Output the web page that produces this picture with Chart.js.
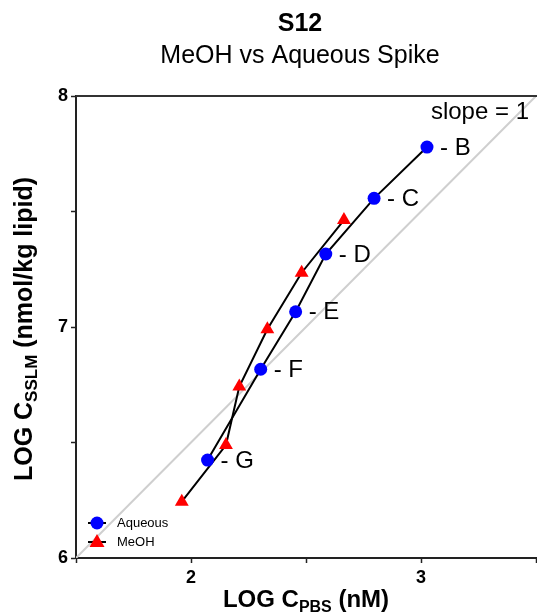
<!DOCTYPE html>
<html>
<head>
<meta charset="utf-8">
<script src="https://cdn.jsdelivr.net/npm/chart.js@4"></script>
<style>
  html, body { margin: 0; padding: 0; background: #fff; }
  #wrap { width: 537px; height: 616px; }
</style>
</head>
<body>
<div id="wrap"><canvas id="chart" width="537" height="616"></canvas></div>
<script>
// data (log units)
const aqueousX = [3.026, 2.796, 2.586, 2.455, 2.303, 2.072];
const aqueousY = [7.779, 7.557, 7.316, 7.066, 6.817, 6.424];
const pointNames = ['B', 'C', 'D', 'E', 'F', 'G'];
const meohX = [1.960, 2.152, 2.210, 2.332, 2.481, 2.665];
const meohY = [6.244, 6.489, 6.742, 6.990, 7.235, 7.463];
const slopeX = [1.5, 3.5];
const slopeY = [6, 8];
const xTickLabels = [2, 3];
const yTickLabels = [6, 7, 8];

const FONT = 'Arial, "Liberation Sans", sans-serif';

function toPoints(xs, ys) {
    return xs.map((x, i) => ({ x: x, y: ys[i] }));
}

const extras = {
    id: 'extras',
    afterDatasetsDraw(chart) {
        const ctx = chart.ctx;
        const area = chart.chartArea;
        const xs = chart.scales.x;
        const ys = chart.scales.y;
        ctx.save();

        // top frame line
        ctx.strokeStyle = '#333';
        ctx.lineWidth = 2;
        ctx.beginPath();
        ctx.moveTo(area.left, area.top);
        ctx.lineTo(area.right + 1, area.top);
        ctx.stroke();

        // point labels
        ctx.fillStyle = '#000';
        ctx.font = '24px ' + FONT;
        ctx.textBaseline = 'middle';
        ctx.textAlign = 'left';
        pointNames.forEach((name, i) => {
            const px = xs.getPixelForValue(aqueousX[i]);
            const py = ys.getPixelForValue(aqueousY[i]);
            ctx.fillText('- ' + name, px + 13, py + 1);
        });

        ctx.textAlign = 'right';
        ctx.fillText('slope = 1', 529, 112);

        // legend
        const legend = [
            { label: 'Aqueous', color: '#0000ff', shape: 'circle', y: 523 },
            { label: 'MeOH', color: '#ff0000', shape: 'triangle', y: 542 }
        ];
        legend.forEach(item => {
            const cx = 97;
            ctx.strokeStyle = '#000';
            ctx.lineWidth = 2;
            ctx.beginPath();
            ctx.moveTo(cx - 9, item.y);
            ctx.lineTo(cx + 9, item.y);
            ctx.stroke();
            ctx.fillStyle = item.color;
            ctx.beginPath();
            if (item.shape === 'circle') {
                ctx.arc(cx, item.y, 6.5, 0, Math.PI * 2);
            } else {
                ctx.moveTo(cx, item.y - 8);
                ctx.lineTo(cx + 7.5, item.y + 5);
                ctx.lineTo(cx - 7.5, item.y + 5);
                ctx.closePath();
            }
            ctx.fill();
            ctx.fillStyle = '#000';
            ctx.font = '13px ' + FONT;
            ctx.textAlign = 'left';
            ctx.textBaseline = 'middle';
            ctx.fillText(item.label, 117, item.y);
        });

        // titles
        ctx.textAlign = 'center';
        ctx.textBaseline = 'alphabetic';
        ctx.font = 'bold 25px ' + FONT;
        ctx.fillText('S12', 300, 31);
        ctx.font = '25px ' + FONT;
        ctx.fillText('MeOH vs Aqueous Spike', 300, 63);

        // axis titles with subscripts
        function subLabel(parts, cx, cy) {
            let w = 0;
            parts.forEach(p => {
                ctx.font = 'bold ' + p.size + 'px ' + FONT;
                p.w = ctx.measureText(p.text).width;
                w += p.w;
            });
            let x = cx - w / 2;
            ctx.textAlign = 'left';
            parts.forEach(p => {
                ctx.font = 'bold ' + p.size + 'px ' + FONT;
                ctx.fillText(p.text, x, cy + (p.dy || 0));
                x += p.w;
            });
        }
        subLabel([
            { text: 'LOG C', size: 24 },
            { text: 'PBS', size: 16, dy: 5 },
            { text: ' (nM)', size: 24 }
        ], (area.left + area.right) / 2, 607);

        ctx.save();
        ctx.translate(32, (area.top + area.bottom) / 2 + 2);
        ctx.rotate(-Math.PI / 2);
        subLabel([
            { text: 'LOG C', size: 25 },
            { text: 'SSLM', size: 17, dy: 5 },
            { text: ' (nmol/kg lipid)', size: 25 }
        ], 0, 0);
        ctx.restore();

        ctx.restore();
    }
};

new Chart(document.getElementById('chart'), {
    type: 'scatter',
    data: {
        datasets: [
            {
                label: 'Aqueous',
                data: toPoints(aqueousX, aqueousY),
                showLine: true,
                borderColor: '#000',
                borderWidth: 2,
                pointStyle: 'circle',
                pointRadius: 6.5,
                pointBackgroundColor: '#0000ff',
                pointBorderColor: '#0000ff',
                pointBorderWidth: 0,
                order: 1
            },
            {
                label: 'MeOH',
                data: toPoints(meohX, meohY),
                showLine: true,
                borderColor: '#000',
                borderWidth: 2,
                pointStyle: 'triangle',
                pointRadius: 8,
                pointBackgroundColor: '#ff0000',
                pointBorderColor: '#ff0000',
                pointBorderWidth: 0,
                order: 2
            },
            {
                label: 'slope = 1',
                data: toPoints(slopeX, slopeY),
                showLine: true,
                borderColor: '#cfcfcf',
                borderWidth: 2,
                pointRadius: 0,
                order: 10
            }
        ]
    },
    options: {
        responsive: false,
        animation: false,
        layout: {
            autoPadding: false,
            padding: { left: 0, top: 96, right: 1, bottom: 0 }
        },
        plugins: {
            legend: { display: false },
            tooltip: { enabled: false }
        },
        scales: {
            x: {
                type: 'linear',
                min: 1.5,
                max: 3.5,
                afterFit: s => {
                    s.height = 58;
                    s.paddingLeft = 0;
                    s.paddingRight = 0;
                },
                afterBuildTicks: s => {
                    s.ticks = [1.5, 2, 2.5, 3, 3.5].map(v => ({ value: v }));
                },
                grid: {
                    drawOnChartArea: false,
                    drawTicks: true,
                    tickLength: 5,
                    tickWidth: 1.5,
                    tickColor: '#222'
                },
                border: { color: '#222', width: 2 },
                ticks: {
                    padding: 4,
                    color: '#000',
                    font: { family: FONT, size: 18, weight: 'bold' },
                    callback: v => xTickLabels.includes(v) ? String(v) : ''
                }
            },
            y: {
                type: 'linear',
                min: 6,
                max: 8,
                afterFit: s => {
                    s.width = 76;
                    s.paddingTop = 0;
                    s.paddingBottom = 0;
                },
                afterBuildTicks: s => {
                    s.ticks = [6, 6.5, 7, 7.5, 8].map(v => ({ value: v }));
                },
                grid: {
                    drawOnChartArea: false,
                    drawTicks: true,
                    tickLength: 5,
                    tickWidth: 1.5,
                    tickColor: '#222'
                },
                border: { color: '#222', width: 2 },
                ticks: {
                    padding: 3,
                    color: '#000',
                    font: { family: FONT, size: 18, weight: 'bold' },
                    callback: v => yTickLabels.includes(v) ? String(v) : ''
                }
            }
        }
    },
    plugins: [extras]
});
</script>
</body>
</html>
